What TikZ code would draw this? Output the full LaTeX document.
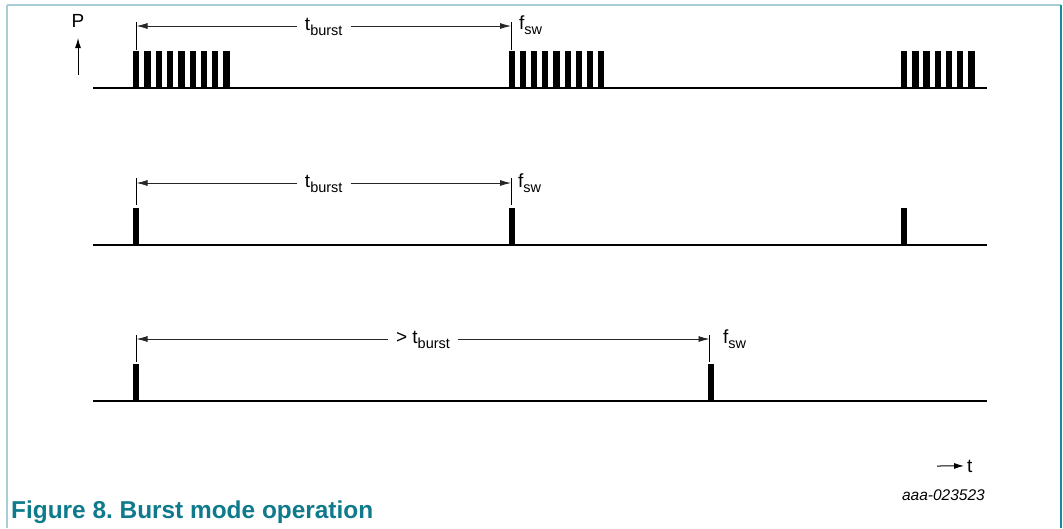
\documentclass[tikz,border=0pt]{standalone}
\usepackage{fontspec}
\setmainfont{Liberation Sans}
\usetikzlibrary{arrows.meta,calc}
\frenchspacing
\definecolor{capteal}{HTML}{0E7A8C}
\definecolor{frametop}{HTML}{A9CDD6}
\definecolor{frameright}{HTML}{1A8A9A}
\newcommand{\lbl}[2]{#1\raisebox{-0.28em}{\fontsize{14.5}{14.5}\selectfont #2}}
\tikzset{
  x=1pt,y=-1pt,
  txt/.style={font=\fontsize{19}{19}\selectfont,inner sep=0pt},
  baseline line/.style={line width=2.6pt},
  bar/.style={fill=black},
  extline/.style={line width=0.8pt},
  dimline/.style={line width=0.8pt,draw=black!85},
  tip/.style={-{Latex[length=11pt,width=6pt]}},
  gaplabel/.style={txt,inner xsep=8pt},
}
\newcommand{\pulse}[2]{\fill[bar] (#1,#2) rectangle ++(6.3,-37);}
\begin{document}
\begin{tikzpicture}
\useasboundingbox (0,0) rectangle (1063,528);
% frame
\draw[frametop,line width=1.6pt] (7,5) -- (1061,5);
\draw[frametop,line width=1.6pt] (7,5) -- (7,528);
\draw[frameright,line width=1.6pt] (1061,5) -- (1061,528);

% P axis
\node[txt,anchor=base] (P) at (78,27) {P};
\coordinate (Pb) at (78,75);
\coordinate (Pt) at (78,38);
\draw[line width=1pt,-{Latex[length=10pt,width=6pt]}] (Pb) -- (Pt);

% ---------- Row 1 ----------
\coordinate (b1s) at (93,88);
\coordinate (b1e) at (987,88);
\draw[baseline line] (b1s) -- (b1e);
\foreach \i in {0,...,8} {\pulse{133+11.3*\i}{88}}
\foreach \i in {0,...,8} {\pulse{508.5+11.2*\i}{88}}
\foreach \i in {0,...,6} {\pulse{901+11.2*\i}{88}}
\coordinate (r1a) at (136.5,26);
\coordinate (r1b) at (511,26);
\draw[extline] (136.5,22) -- (136.5,50);
\draw[extline] (511,22) -- (511,50);
\node[gaplabel,anchor=base] (t1) at ($(r1a)!0.5!(r1b)+(0,4)$) {\lbl{t}{burst}};
\draw[dimline,tip] (r1a -| t1.west) -- (r1a);
\draw[dimline,tip] (r1b -| t1.east) -- (r1b);
\node[txt,anchor=base west] (f1) at (519,29) {\lbl{f}{sw}};

% ---------- Row 2 ----------
\coordinate (b2s) at (93,245);
\coordinate (b2e) at (987,245);
\draw[baseline line] (b2s) -- (b2e);
\pulse{133}{245}
\pulse{508.5}{245}
\pulse{901}{245}
\coordinate (r2a) at (136.5,183);
\coordinate (r2b) at (511,183);
\draw[extline] (136.5,178) -- (136.5,205);
\draw[extline] (511,178) -- (511,205);
\node[gaplabel,anchor=base] (t2) at ($(r2a)!0.5!(r2b)+(0,4)$) {\lbl{t}{burst}};
\draw[dimline,tip] (r2a -| t2.west) -- (r2a);
\draw[dimline,tip] (r2b -| t2.east) -- (r2b);
\node[txt,anchor=base west] (f2) at (518,187) {\lbl{f}{sw}};

% ---------- Row 3 ----------
\coordinate (b3s) at (93,401);
\coordinate (b3e) at (987,401);
\draw[baseline line] (b3s) -- (b3e);
\pulse{133}{401}
\pulse{707.5}{401}
\coordinate (r3a) at (136.5,339);
\coordinate (r3b) at (709.5,339);
\draw[extline] (136.5,335) -- (136.5,362);
\draw[extline] (709.5,335) -- (709.5,362);
\node[gaplabel,anchor=base] (t3) at ($(r3a)!0.5!(r3b)+(0,4)$) {> \lbl{t}{burst}};
\draw[dimline,tip] (r3a -| t3.west) -- (r3a);
\draw[dimline,tip] (r3b -| t3.east) -- (r3b);
\node[txt,anchor=base west] (f3) at (723,343) {\lbl{f}{sw}};

% time axis
\node[txt,anchor=base west] (tt) at (967,472) {t};
\coordinate (ta) at (937,466);
\draw[line width=1pt,-{Latex[length=10pt,width=6pt]}] (ta) -- ($(tt.west)+(-3,0)$);

% id
\node[txt,anchor=base east,font=\fontsize{15.5}{15.5}\selectfont\itshape] (id) at (985,500) {aaa-023523};

% caption
\node[anchor=base west,inner sep=0pt,text=capteal,font=\fontsize{24.4}{24.4}\selectfont\bfseries] (cap) at (11,518) {Figure 8. Burst mode operation};
\end{tikzpicture}
\end{document}
